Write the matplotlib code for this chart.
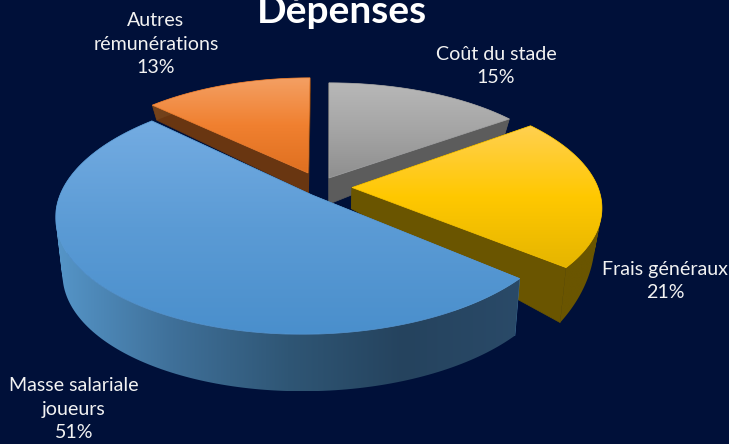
import numpy as np
import matplotlib
matplotlib.use("Agg")
import matplotlib.pyplot as plt
from matplotlib.colors import LinearSegmentedColormap
from matplotlib.patches import Polygon
from matplotlib.path import Path

# Data
title = "Dépenses"
categories = ["Coût du stade", "Frais généraux", "Masse salariale\njoueurs", "Autres\nrémunérations"]
shares = [15, 21, 51, 13]

# Layout and style, by category index
BG = "#001039"
DRAW_ORDER = [3, 0, 1, 2]
TIPS = [(329, 178), (352, 187.5), (312, 195), (308, 173)]
RADII = [(242, 109), (246, 114), (252, 119), (237, 109)]
SKEWS = [0, -8, 10, 2]
DEPTHS = [((119, 15), (178, 26)), ((187, 21), (270, 56)), ((100, 57), (300, 57)), ((105, 15), (173, 20))]
TOP_COL = [["#B8B8B8", "#A5A5A5", "#8F8F8F"],
           ["#FFD050", "#FFC800", "#E5B500"],
           ["#74ACE2", "#5B9BD5", "#4A8FCC"],
           ["#F4A064", "#F08030", "#DF7020"]]
WALL_COL = [["#646464", "#5C5C5C"],
            ["#6A5500", "#6A5500", "#6A5500"],
            ["#5595C8", "#3F7099", "#2F5675", "#25435E", "#2A4A68"],
            ["#74431C", "#693611", "#663410"]]
LABEL_POS = [(496, 66), (665, 281), (74, 409), (156, 44)]
PERSP = 0.1455
SHRINK = 0.975

fig = plt.figure(figsize=(7.29, 4.44), dpi=100, facecolor=BG)
ax = fig.add_axes([0, 0, 1, 1])
ax.set_xlim(0, 729)
ax.set_ylim(444, 0)
ax.axis("off")


def project(theta, tip, radii, skew):
    u, v = np.sin(theta), np.cos(theta)
    s = 1 / (1 + PERSP * v)
    return tip[0] + radii[0] * u * s + skew * v, tip[1] - radii[1] * v * s


def lower(x, y, depth):
    yy = np.interp(y, [depth[0][0], depth[1][0]], [depth[0][1], depth[1][1]])
    return 330 + (x - 330) * SHRINK, y + yy


def ramp_image(xs, ys, colors, vertical, zorder):
    cmap = LinearSegmentedColormap.from_list("g", colors)
    ramp = np.linspace(0, 1, 256)
    grid = ramp[:, None] if vertical else ramp[None, :]
    return ax.imshow(grid, cmap=cmap, extent=(xs.min(), xs.max(), ys.max(), ys.min()),
                     aspect="auto", zorder=zorder, interpolation="bilinear")


def top_face(xs, ys, colors, zorder):
    pts = np.column_stack([xs, ys])
    patch = Polygon(pts, closed=True, facecolor="none", edgecolor="none", transform=ax.transData)
    ax.add_patch(patch)
    ramp_image(xs, ys, colors, True, zorder).set_clip_path(patch)
    ax.add_patch(Polygon(pts, closed=True, facecolor="none",
                         edgecolor=colors[len(colors) // 2], lw=0.5, zorder=zorder))


def side_wall(x1, y1, x2, y2, colors, zorder):
    # union of consistently wound quads, so that the silhouette is complete
    quads = []
    for a in range(len(x1) - 1):
        q = np.array([[x1[a], y1[a]], [x1[a + 1], y1[a + 1]], [x2[a + 1], y2[a + 1]], [x2[a], y2[a]]])
        area = np.sum(q[:, 0] * np.roll(q[:, 1], -1) - np.roll(q[:, 0], -1) * q[:, 1])
        if area < 0:
            q = q[::-1]
        quads.append(Path(np.vstack([q, q[:1]]), closed=True))
    clip = Path.make_compound_path(*quads)
    im = ramp_image(np.concatenate([x1, x2]), np.concatenate([y1, y2]), colors, False, zorder)
    im.set_clip_path(clip, ax.transData)


fractions = np.array(shares) / np.sum(shares)
edges = np.concatenate([[0], np.cumsum(fractions)]) * 2 * np.pi
z = 2
for i in DRAW_ORDER:
    t = np.linspace(edges[i], edges[i + 1], 160)
    tip, radii, depth = TIPS[i], RADII[i], DEPTHS[i]
    ax_, ay_ = project(t, tip, radii, SKEWS[i])
    bx_, by_ = lower(ax_, ay_, depth)
    tbx, tby = lower(np.array([tip[0]], float), np.array([tip[1]], float), depth)

    # cut faces
    for k in (0, -1):
        fx = np.array([tip[0], ax_[k], bx_[k], tbx[0]])
        fy = np.array([tip[1], ay_[k], by_[k], tby[0]])
        ax.add_patch(Polygon(np.column_stack([fx, fy]), closed=True,
                             facecolor=WALL_COL[i][1], edgecolor=WALL_COL[i][1],
                             lw=0.5, zorder=z))
    # outer wall
    side_wall(ax_, ay_, bx_, by_, WALL_COL[i], z + 0.1)
    # top face
    top_face(np.concatenate([[tip[0]], ax_]), np.concatenate([[tip[1]], ay_]), TOP_COL[i], z + 0.2)
    z += 1

ax.set_xlim(0, 729)
ax.set_ylim(444, 0)

for name, share, (lx, ly) in zip(categories, shares, LABEL_POS):
    ax.text(lx, ly, f"{name}\n{share}%", color="#F2F2F2", family="Lato", fontsize=14.1,
            ha="center", va="center", linespacing=1.43, zorder=20)

ax.text(342, 23, title, color="white", family="Lato", fontweight="bold", fontsize=28,
        ha="center", va="baseline", zorder=20)

fig.savefig("out.png", dpi=100, facecolor=BG)
